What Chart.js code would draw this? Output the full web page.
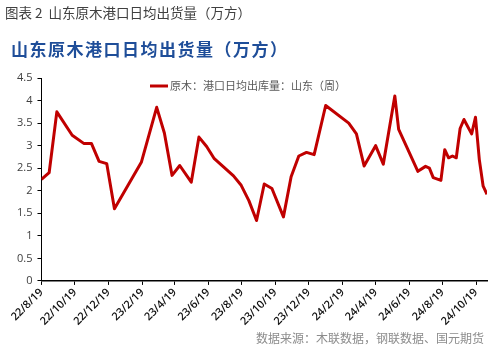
<!DOCTYPE html>
<html>
<head>
<meta charset="utf-8">
<script src="https://cdn.jsdelivr.net/npm/chart.js@4"></script>
<style>
  html, body { margin: 0; padding: 0; background: #fff; }
  #chart { display: block; }
</style>
</head>
<body>
<canvas id="chart" width="503" height="350"></canvas>
<script>
// 山东原木港口日均出库量（周度，万方）
const dates = [
  '2022-08-19', '2022-09-02', '2022-09-16', '2022-10-14', '2022-11-04',
  '2022-11-18', '2022-12-02', '2022-12-16', '2022-12-30', '2023-02-17',
  '2023-03-17', '2023-03-31', '2023-04-14', '2023-04-28', '2023-05-19',
  '2023-06-02', '2023-06-16', '2023-06-30', '2023-08-04', '2023-08-18',
  '2023-09-01', '2023-09-15', '2023-09-29', '2023-10-13', '2023-11-03',
  '2023-11-17', '2023-12-01', '2023-12-15', '2023-12-29', '2024-01-19',
  '2024-03-01', '2024-03-15', '2024-03-29', '2024-04-19', '2024-05-03',
  '2024-05-24', '2024-05-31', '2024-06-14', '2024-07-05', '2024-07-19',
  '2024-07-26', '2024-08-02', '2024-08-16', '2024-08-23', '2024-08-30',
  '2024-09-06', '2024-09-13', '2024-09-20', '2024-09-27', '2024-10-11',
  '2024-10-18', '2024-10-25', '2024-11-01', '2024-11-08'
];
const outbound = [
  2.25, 2.40, 3.75, 3.23, 3.05,
  3.05, 2.65, 2.60, 1.60, 2.63,
  3.85, 3.28, 2.34, 2.56, 2.19,
  3.19, 2.98, 2.71, 2.33, 2.12,
  1.78, 1.34, 2.15, 2.05, 1.42,
  2.31, 2.77, 2.85, 2.80, 3.89,
  3.50, 3.26, 2.55, 3.00, 2.59,
  4.10, 3.36, 2.99, 2.43, 2.54,
  2.50, 2.29, 2.23, 2.91, 2.73,
  2.77, 2.73, 3.38, 3.58, 3.26,
  3.63, 2.69, 2.10, 1.92
];
const tickDates = [
  '2022-08-19', '2022-10-19', '2022-12-19', '2023-02-19', '2023-04-19',
  '2023-06-19', '2023-08-19', '2023-10-19', '2023-12-19', '2024-02-19',
  '2024-04-19', '2024-06-19', '2024-08-19', '2024-10-19'
];
const tickLabels = [
  '22/8/19', '22/10/19', '22/12/19', '23/2/19', '23/4/19',
  '23/6/19', '23/8/19', '23/10/19', '23/12/19', '24/2/19',
  '24/4/19', '24/6/19', '24/8/19', '24/10/19'
];
const seriesName = '原木：港口日均出库量：山东（周）';

const toDay = s => Date.parse(s) / 86400000;
const cjk = '"Noto Sans CJK SC", sans-serif';

// 标题、图例与数据来源
const textLayer = {
  id: 'textLayer',
  afterDraw(chart) {
    const ctx = chart.ctx;
    ctx.save();
    ctx.textBaseline = 'middle';
    ctx.textAlign = 'left';

    ctx.fillStyle = '#404040';
    ctx.font = '13.5px ' + cjk;
    ctx.fillText('图表 2  山东原木港口日均出货量（万方）', 5, 13);

    ctx.fillStyle = '#1f4e99';
    ctx.font = 'bold 17px ' + cjk;
    ctx.letterSpacing = '1.5px';
    ctx.fillText('山东原木港口日均出货量（万方）', 11, 50);
    ctx.letterSpacing = '0px';

    const ds = chart.data.datasets[0];
    ctx.strokeStyle = ds.borderColor;
    ctx.lineWidth = 3;
    ctx.beginPath();
    ctx.moveTo(150, 86);
    ctx.lineTo(168, 86);
    ctx.stroke();
    ctx.fillStyle = '#595959';
    ctx.font = '11px ' + cjk;
    ctx.fillText(ds.label, 170, 86);

    ctx.fillStyle = '#8c8c8c';
    ctx.font = '12px ' + cjk;
    ctx.textAlign = 'right';
    ctx.fillText('数据来源：木联数据，钢联数据、国元期货', 484, 338);
    ctx.restore();
  }
};

new Chart(document.getElementById('chart'), {
  type: 'line',
  data: {
    datasets: [{
      label: seriesName,
      data: dates.map((d, i) => ({ x: toDay(d), y: outbound[i] })),
      borderColor: '#c00000',
      borderWidth: 3,
      borderJoinStyle: 'round',
      pointRadius: 0,
      tension: 0,
      fill: false
    }]
  },
  options: {
    responsive: false,
    animation: false,
    devicePixelRatio: 1,
    layout: { padding: { top: 78, right: 16, left: 12, bottom: 21 } },
    plugins: {
      legend: { display: false },
      tooltip: { enabled: false }
    },
    scales: {
      x: {
        type: 'linear',
        min: toDay(dates[0]),
        max: toDay(dates[dates.length - 1]),
        afterBuildTicks: scale => {
          scale.ticks = tickDates.map(d => ({ value: toDay(d) }));
        },
        grid: { drawOnChartArea: false, drawTicks: true, tickLength: 4, color: '#000' },
        border: { color: '#000', width: 1.5 },
        ticks: {
          autoSkip: false,
          maxRotation: 45,
          minRotation: 45,
          padding: 1,
          color: '#111',
          font: { family: '"Open Sans", sans-serif', size: 11, weight: '600' },
          callback: (v, i) => tickLabels[i]
        }
      },
      y: {
        min: 0,
        max: 4.5,
        grid: { drawOnChartArea: false, drawTicks: true, tickLength: 4, color: '#000' },
        border: { color: '#000', width: 1 },
        ticks: {
          stepSize: 0.5,
          padding: 5,
          color: '#404040',
          font: { family: '"Open Sans", sans-serif', size: 11 },
          callback: v => String(Math.round(v * 10) / 10)
        }
      }
    }
  },
  plugins: [textLayer]
});
</script>
</body>
</html>
